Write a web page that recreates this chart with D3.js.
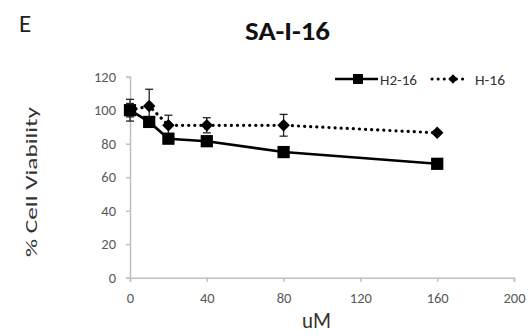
<!DOCTYPE html>
<html>
<head>
<meta charset="utf-8">
<script src="https://cdn.jsdelivr.net/npm/d3@7"></script>
<style>
  body { margin: 0; background: #fff; }
  text { font-family: Calibri, Carlito, "Open Sans", sans-serif; }
</style>
</head>
<body>
<svg id="chart" width="528" height="335"></svg>
<script>
const doses = [0, 10, 20, 40, 80, 160]
const h2Values = [100, 93, 83, 81.5, 75, 68]
const h2Errors = [6.5, 3, 2, 2, 2, 1.5]
const hValues = [100, 102.5, 91, 91, 91, 86.5]
const hErrors = [4, 10, 6, 4.5, 6.5, 1]
const xTicks = [0, 40, 80, 120, 160, 200]
const yTicks = [0, 20, 40, 60, 80, 100, 120]

const series = [
    { name: "H2-16", values: h2Values, errors: h2Errors, dash: null, marker: d3.symbolSquare },
    { name: "H-16", values: hValues, errors: hErrors, dash: "0.1 6", marker: d3.symbolDiamond2 }
]

const svg = d3.select("#chart")

const x = d3.scaleLinear().domain([0, 200]).range([130, 514])
const y = d3.scaleLinear().domain([0, 120]).range([277.7, 76.7])

const axisColor = "#bfbfbf",
      tickColor = "#595959"

// axes
const xAxis = svg.append("g")
    .attr("transform", `translate(0, ${y(0)})`)
    .call(d3.axisBottom(x).tickValues(xTicks).tickSize(4).tickPadding(11))
const yAxis = svg.append("g")
    .attr("transform", `translate(${x(0)}, 0)`)
    .call(d3.axisLeft(y).tickValues(yTicks).tickSize(4).tickPadding(10))

for (const g of [xAxis, yAxis]) {
    g.select(".domain").attr("stroke", axisColor).attr("stroke-width", 1.5)
    g.selectAll(".tick line").attr("stroke", axisColor).attr("stroke-width", 1.5)
    g.selectAll(".tick text")
        .attr("fill", tickColor)
        .attr("font-size", "14.5px")
        .style("font-family", "Calibri, Carlito, 'Open Sans', sans-serif")
}

// lines, error bars, markers
const line = d3.line()
    .x((d, i) => x(doses[i]))
    .y(d => y(d))

for (const s of series.slice().reverse()) {
    const g = svg.append("g")

    g.append("path")
        .datum(s.values)
        .attr("fill", "none")
        .attr("stroke", "#000")
        .attr("stroke-width", s.dash ? 3.2 : 2.6)
        .attr("stroke-linecap", s.dash ? "round" : "butt")
        .attr("stroke-dasharray", s.dash)
        .attr("d", line)

    const pts = s.values.map((v, i) => ({ dose: doses[i], v, e: s.errors[i] }))

    const eb = g.selectAll(".err").data(pts).enter().append("g")
        .attr("stroke", "#222")
        .attr("stroke-width", 1.3)
    eb.append("line")
        .attr("x1", d => x(d.dose)).attr("x2", d => x(d.dose))
        .attr("y1", d => y(d.v - d.e)).attr("y2", d => y(d.v + d.e))
    eb.append("line")
        .attr("x1", d => x(d.dose) - 4).attr("x2", d => x(d.dose) + 4)
        .attr("y1", d => y(d.v + d.e)).attr("y2", d => y(d.v + d.e))
    eb.append("line")
        .attr("x1", d => x(d.dose) - 4).attr("x2", d => x(d.dose) + 4)
        .attr("y1", d => y(d.v - d.e)).attr("y2", d => y(d.v - d.e))

    g.selectAll(".pt").data(pts).enter().append("path")
        .attr("transform", d => `translate(${x(d.dose)}, ${y(d.v)})`)
        .attr("d", d3.symbol().type(s.marker).size(s.dash ? 100 : 150))
        .attr("fill", "#000")
}

// legend
const legend = svg.append("g").attr("transform", "translate(0, 79)")
legend.append("line").attr("x1", 335).attr("x2", 378).attr("stroke", "#000").attr("stroke-width", 2.6)
legend.append("path").attr("transform", "translate(358, 0)")
    .attr("d", d3.symbol().type(d3.symbolSquare).size(100)).attr("fill", "#000")
legend.append("text").attr("x", 380).attr("y", 5.5).attr("font-size", "15px").attr("fill", "#333")
    .attr("textLength", 37).attr("lengthAdjust", "spacingAndGlyphs")
    .text("H2-16")
legend.append("line").attr("x1", 432).attr("x2", 468).attr("stroke", "#000").attr("stroke-width", 3)
    .attr("stroke-dasharray", "0.1 6").attr("stroke-linecap", "round")
legend.append("path").attr("transform", "translate(453, 0)")
    .attr("d", d3.symbol().type(d3.symbolDiamond2).size(55)).attr("fill", "#000")
legend.append("text").attr("x", 475).attr("y", 5.5).attr("font-size", "15px").attr("fill", "#333")
    .attr("textLength", 30).attr("lengthAdjust", "spacingAndGlyphs")
    .text("H-16")

// titles
svg.append("text")
    .attr("x", 19).attr("y", 32)
    .attr("font-size", "25px").attr("fill", "#222")
    .text("E")

svg.append("text")
    .attr("x", 245).attr("y", 40)
    .attr("font-size", "27px").attr("font-weight", "bold").attr("fill", "#111")
    .attr("textLength", 85).attr("lengthAdjust", "spacingAndGlyphs")
    .text("SA-I-16")

svg.append("text")
    .attr("transform", "translate(37, 257) rotate(-90)")
    .attr("font-size", "15.5px").attr("fill", "#333")
    .attr("textLength", 150).attr("lengthAdjust", "spacingAndGlyphs")
    .text("% Cell Viability")

svg.append("text")
    .attr("x", 302).attr("y", 328)
    .attr("font-size", "23px").attr("fill", "#333")
    .attr("textLength", 29).attr("lengthAdjust", "spacingAndGlyphs")
    .text("uM")
</script>
</body>
</html>
